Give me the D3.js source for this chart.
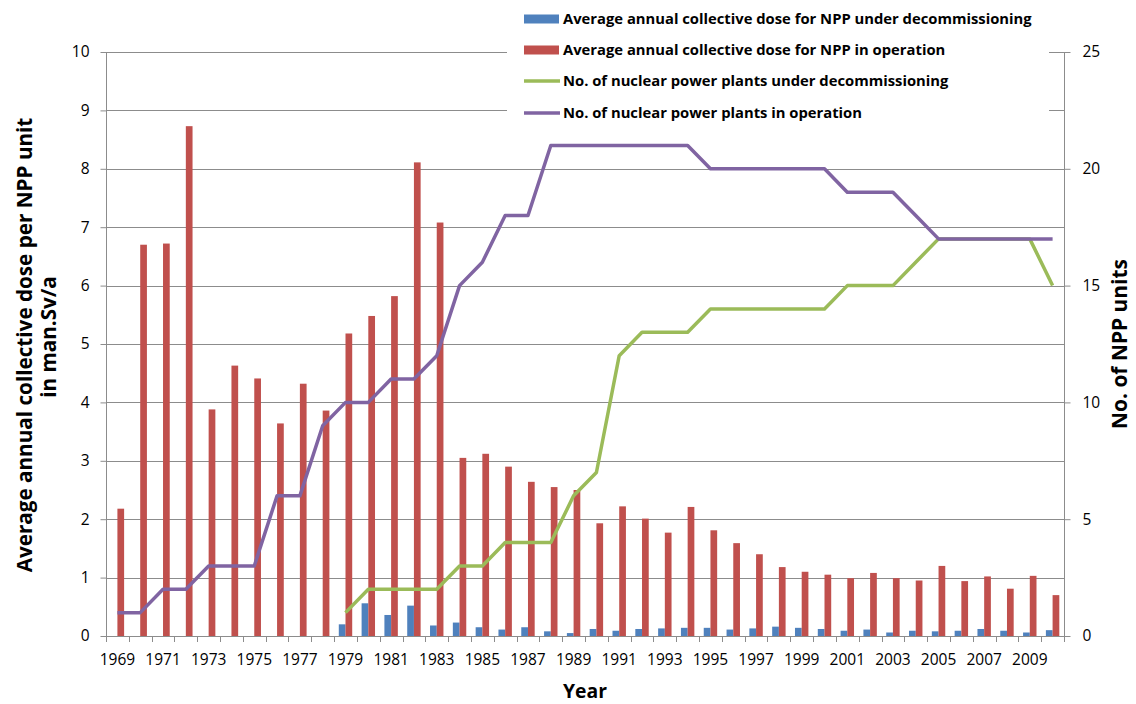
<!DOCTYPE html>
<html>
<head>
<meta charset="utf-8">
<script src="https://cdn.jsdelivr.net/npm/d3@7"></script>
<style>
  html, body { margin: 0; padding: 0; background: #fff; }
  svg { display: block; }
  text { font-family: "Open Sans", Lato, "Liberation Sans", sans-serif; fill: #000; }
</style>
</head>
<body>
<svg id="chart" width="1136" height="704"></svg>
<script>
const years = d3.range(1969, 2011);
const doseDecommissioning = [
  null, null, null, null, null, null, null, null, null, null,
  0.20, 0.56, 0.36, 0.52, 0.18, 0.23, 0.15, 0.11, 0.15, 0.08,
  0.05, 0.12, 0.09, 0.12, 0.13, 0.14, 0.14, 0.11, 0.13, 0.16,
  0.14, 0.12, 0.09, 0.11, 0.06, 0.09, 0.08, 0.09, 0.12, 0.09,
  0.06, 0.10
];
const doseOperation = [
  2.18, 6.70, 6.72, 8.73, 3.88, 4.63, 4.41, 3.64, 4.32, 3.86,
  5.18, 5.48, 5.82, 8.11, 7.08, 3.05, 3.12, 2.90, 2.64, 2.55,
  2.50, 1.93, 2.22, 2.01, 1.77, 2.21, 1.81, 1.59, 1.40, 1.18,
  1.10, 1.05, 0.99, 1.08, 0.99, 0.95, 1.20, 0.94, 1.02, 0.81,
  1.03, 0.70
];
const plantsDecommissioning = [
  null, null, null, null, null, null, null, null, null, null,
  1, 2, 2, 2, 2, 3, 3, 4, 4, 4,
  6, 7, 12, 13, 13, 13, 14, 14, 14, 14,
  14, 14, 15, 15, 15, 16, 17, 17, 17, 17,
  17, 15
];
const plantsOperation = [
  1, 1, 2, 2, 3, 3, 3, 6, 6, 9,
  10, 10, 11, 11, 12, 15, 16, 18, 18, 21,
  21, 21, 21, 21, 21, 21, 20, 20, 20, 20,
  20, 20, 19, 19, 19, 18, 17, 17, 17, 17,
  17, 17
];
const leftTicks = d3.range(0, 11, 1);
const rightTicks = [0, 5, 10, 15, 20, 25];
const xTickYears = years.filter(y => (y - 1969) % 2 === 0);
const legendItems = [
  { label: "Average annual collective dose for NPP under decommissioning", color: "#4F81BD", type: "bar" },
  { label: "Average annual collective dose for NPP in operation", color: "#C0504D", type: "bar" },
  { label: "No. of nuclear power plants under decommissioning", color: "#9BBB59", type: "line" },
  { label: "No. of nuclear power plants in operation", color: "#8064A2", type: "line" }
];

const svg = d3.select("#chart");
const L = 106, R = 1064, T = 52, B = 636;
const gridColor = "#8c8c8c";

function fitSize(sel, target) {
  const len = sel.node().getComputedTextLength();
  const fs = parseFloat(sel.style("font-size"));
  const nfs = fs * target / len;
  sel.style("font-size", nfs + "px");
  return nfs;
}

const x0 = d3.scaleBand().domain(years).range([L, R]).padding(0);
const x1 = d3.scaleBand().domain(["dec", "op"]).range([0, x0.bandwidth()]).paddingInner(0).paddingOuter(0.7);
const yL = d3.scaleLinear().domain([0, 10]).range([B, T]);
const yR = d3.scaleLinear().domain([0, 25]).range([B, T]);

// gridlines
svg.append("g").selectAll("line").data(leftTicks.filter(d => d > 0)).join("line")
  .attr("x1", L).attr("x2", R)
  .attr("y1", d => Math.round(yL(d)) + 0.5).attr("y2", d => Math.round(yL(d)) + 0.5)
  .attr("stroke", gridColor).attr("stroke-width", 1);

// bars
const bars = svg.append("g");
years.forEach((yr, i) => {
  const series = [["dec", doseDecommissioning[i], "#4F81BD"], ["op", doseOperation[i], "#C0504D"]];
  series.forEach(([k, v, c]) => {
    if (v == null) return;
    bars.append("rect")
      .attr("x", x0(yr) + x1(k))
      .attr("width", x1.bandwidth())
      .attr("y", yL(v))
      .attr("height", yL(0) - yL(v))
      .attr("fill", c);
  });
});

// axes
const leftAxis = d3.axisLeft(yL).tickValues(leftTicks).tickSize(6).tickPadding(11).tickFormat(d3.format("d"));
const gL = svg.append("g").attr("transform", `translate(${L + 0.5},0)`).call(leftAxis);
const rightAxis = d3.axisRight(yR).tickValues(rightTicks).tickSize(6).tickPadding(12).tickFormat(d3.format("d"));
const gR = svg.append("g").attr("transform", `translate(${R + 0.5},0)`).call(rightAxis);
const bottomAxis = d3.axisBottom(x0).tickValues(xTickYears).tickSize(0).tickPadding(17);
const gB = svg.append("g").attr("transform", `translate(0,${B + 0.5})`).call(bottomAxis);
[gL, gR, gB].forEach(g => {
  g.select(".domain").attr("stroke", gridColor);
  g.selectAll(".tick line").attr("stroke", gridColor);
  g.selectAll(".tick text").style("font-size", "15.5px").style("font-family", "'Open Sans', sans-serif").attr("fill", "#000");
});
gL.select(".domain").attr("d", `M-0,${B}V${T}`);
gR.select(".domain").attr("d", `M0,${B}V${T}`);
gB.select(".domain").attr("d", `M${L},0H${R}`);
// category boundary ticks on x axis
svg.append("g").selectAll("line").data(years.concat([null])).join("line")
  .attr("x1", (d, i) => Math.round(L + i * x0.step()) + 0.5)
  .attr("x2", (d, i) => Math.round(L + i * x0.step()) + 0.5)
  .attr("y1", B).attr("y2", B + 6)
  .attr("stroke", gridColor);

// lines
const xc = (i) => x0(years[i]) + x0.bandwidth() / 2;
const lineGen = d3.line().defined(d => d.v != null).x(d => xc(d.i)).y(d => yR(d.v));
svg.append("path")
  .datum(plantsDecommissioning.map((v, i) => ({ v, i })))
  .attr("d", lineGen).attr("fill", "none").attr("stroke", "#9BBB59").attr("stroke-width", 3.5)
  .attr("stroke-linejoin", "round");
svg.append("path")
  .datum(plantsOperation.map((v, i) => ({ v, i })))
  .attr("d", lineGen).attr("fill", "none").attr("stroke", "#8064A2").attr("stroke-width", 3.5)
  .attr("stroke-linejoin", "round");

// legend
const lg = svg.append("g");
lg.append("rect").attr("x", 507).attr("y", 0).attr("width", 542).attr("height", 128).attr("fill", "#fff");
const rowY = [19, 50, 81, 113];
const legendTexts = [];
legendItems.forEach((it, i) => {
  const y = rowY[i];
  if (it.type === "bar") {
    lg.append("rect").attr("x", 524).attr("y", y - 4.5).attr("width", 35).attr("height", 9).attr("fill", it.color);
  } else {
    lg.append("line").attr("x1", 524).attr("x2", 560).attr("y1", y).attr("y2", y)
      .attr("stroke", it.color).attr("stroke-width", 3.5);
  }
  legendTexts.push(lg.append("text").attr("x", 563).attr("y", y).attr("dy", "0.36em")
    .style("font-size", "14px").style("font-weight", "bold").text(it.label));
});
const lfs = fitSize(legendTexts[0], 469);
legendTexts.forEach(t => t.style("font-size", lfs + "px"));

// axis titles
const t1 = svg.append("text")
  .attr("transform", `translate(31.5,345) rotate(-90)`)
  .attr("text-anchor", "middle")
  .style("font-size", "20px").style("font-weight", "bold")
  .text("Average annual collective dose per NPP unit");
const tfs = fitSize(t1, 455);
svg.append("text")
  .attr("transform", `translate(55.5,337) rotate(-90)`)
  .attr("text-anchor", "middle")
  .style("font-size", tfs + "px").style("font-weight", "bold")
  .text("in man.Sv/a");
const t3 = svg.append("text")
  .attr("transform", `translate(1127,344) rotate(-90)`)
  .attr("text-anchor", "middle")
  .style("font-size", "20px").style("font-weight", "bold")
  .text("No. of NPP units");
fitSize(t3, 170);
const t4 = svg.append("text")
  .attr("x", 585).attr("y", 698)
  .attr("text-anchor", "middle")
  .style("font-size", "20px").style("font-weight", "bold")
  .text("Year");
fitSize(t4, 44);
</script>
</body>
</html>
